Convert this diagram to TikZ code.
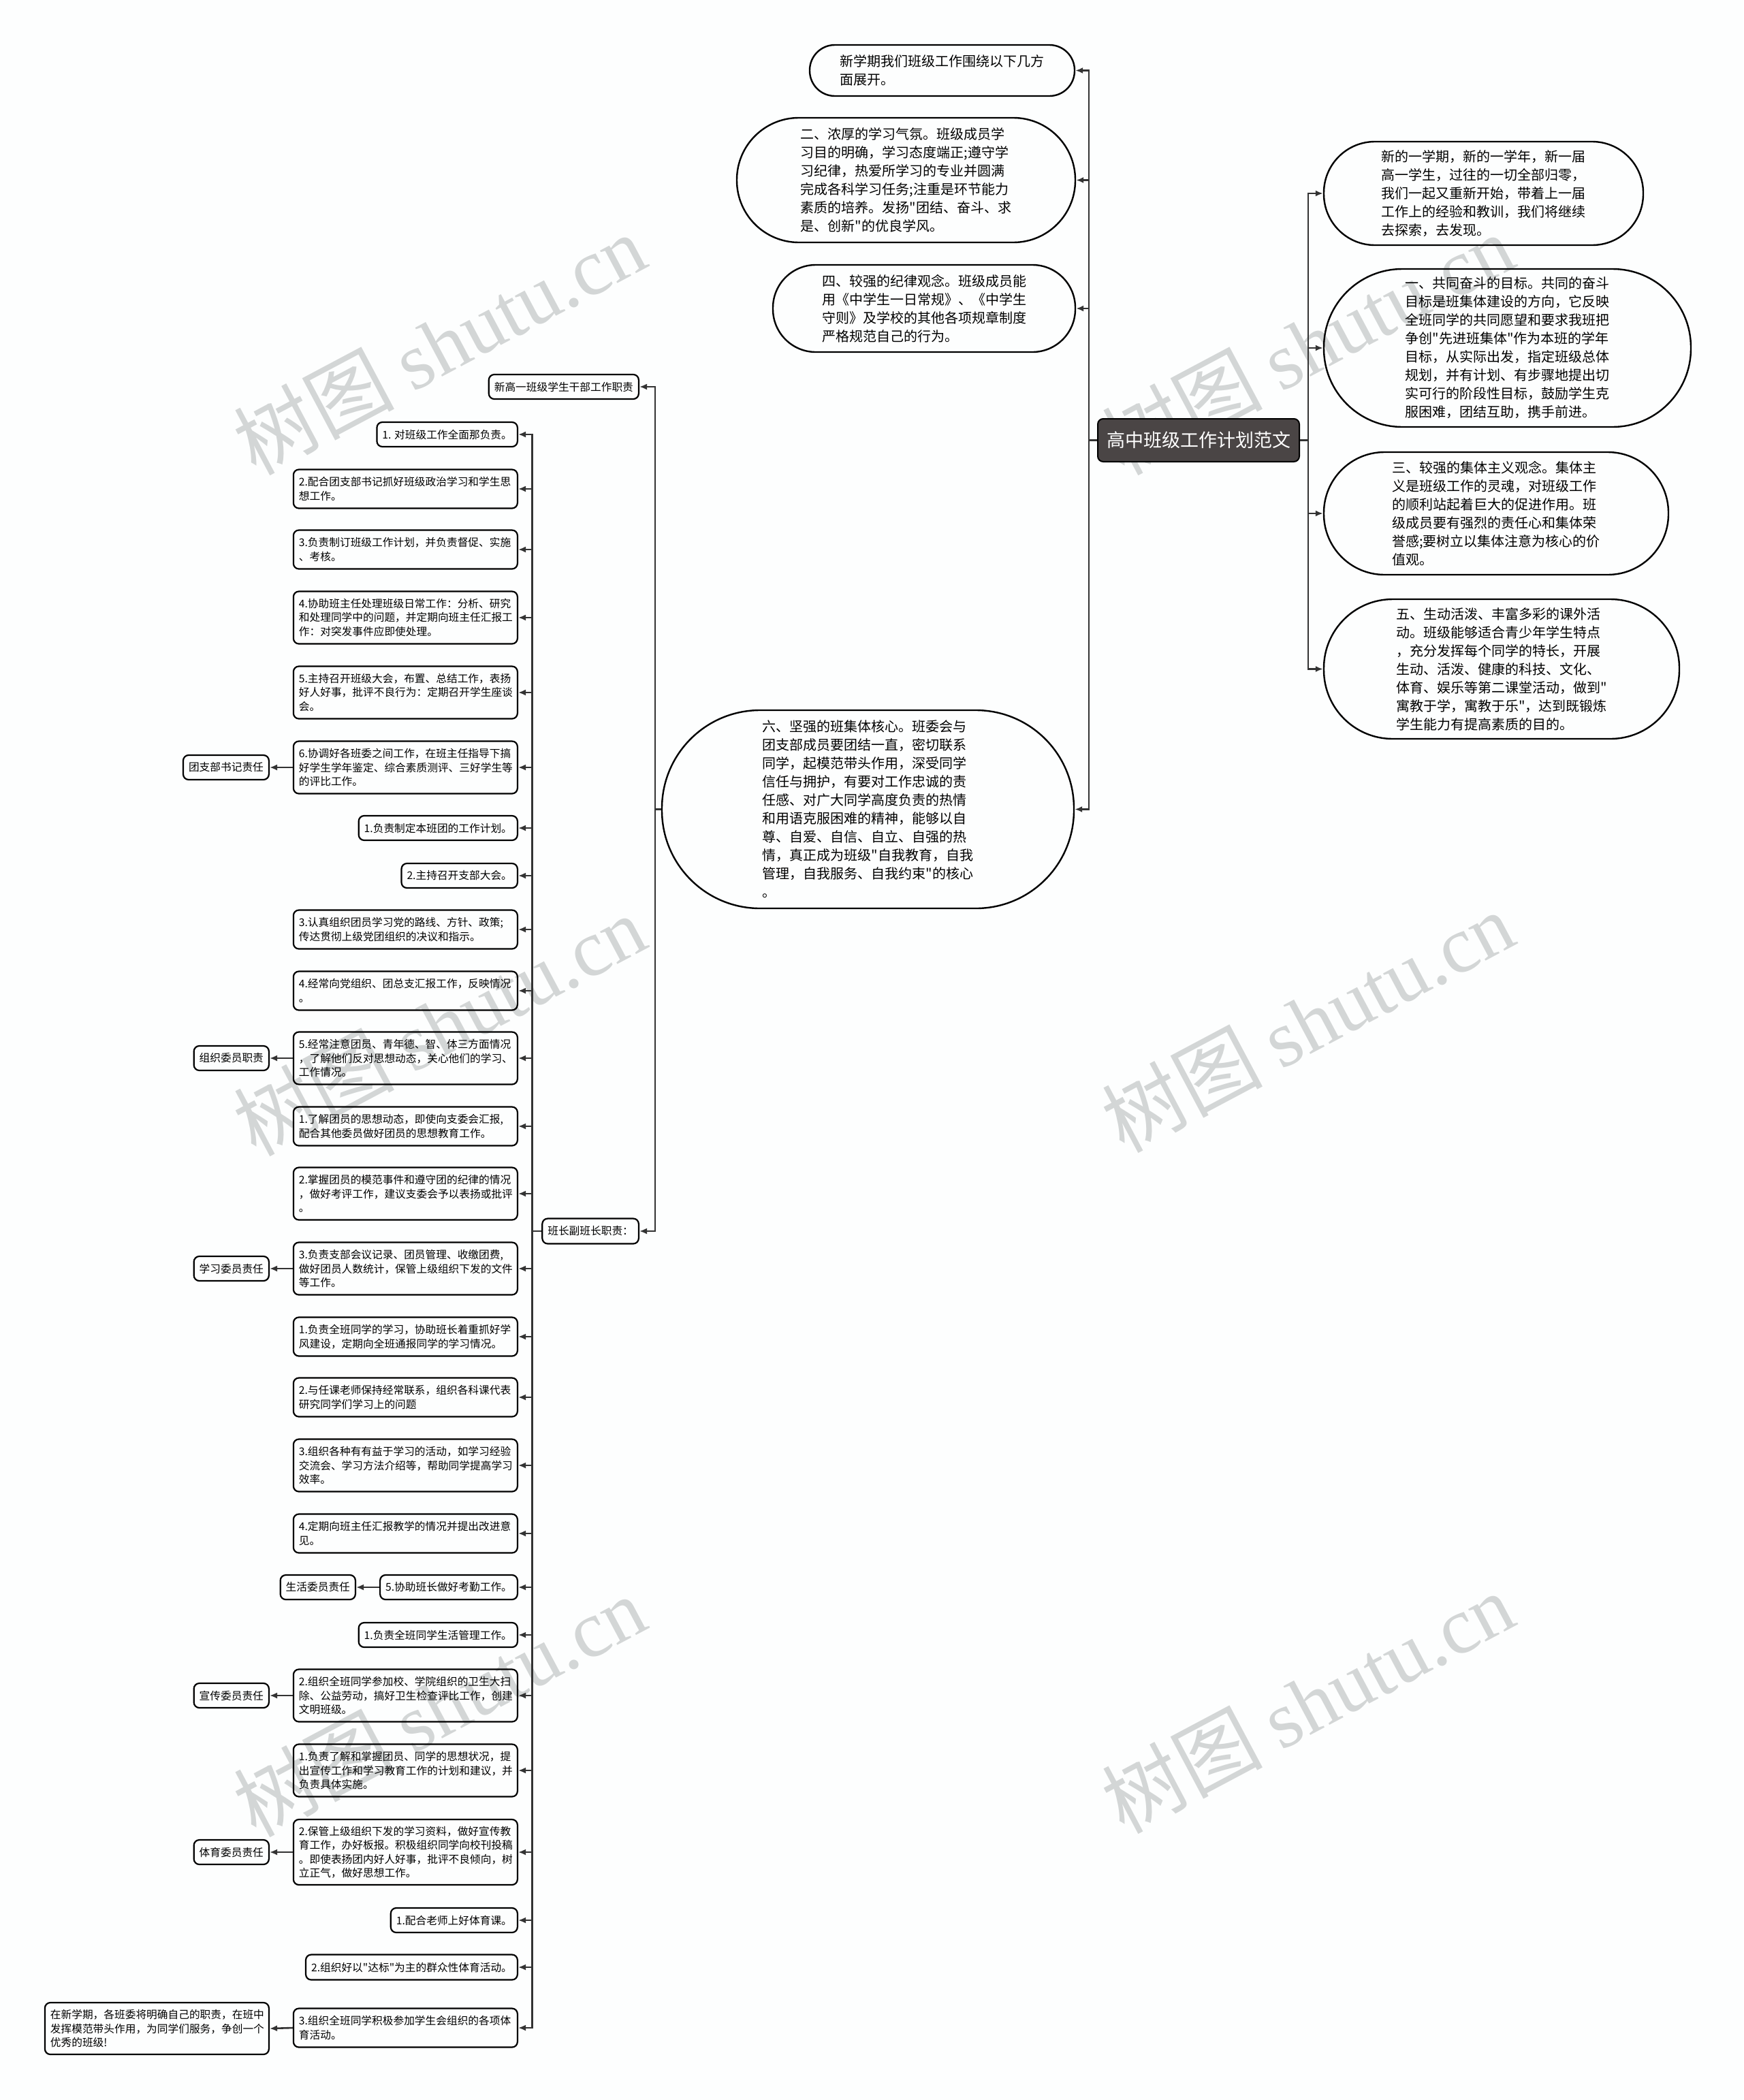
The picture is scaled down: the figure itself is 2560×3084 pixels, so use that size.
\documentclass[tikz,border=0pt]{standalone}
\usepackage{fontspec}
\defaultfontfeatures[\rmfamily]{}
\setmainfont{Noto Sans CJK SC}
\newfontfamily\wmserif{Liberation Serif}
\usetikzlibrary{arrows.meta}
\definecolor{bg}{HTML}{FDFEFE}
\definecolor{ln}{HTML}{333333}
\definecolor{rootfill}{HTML}{4A4545}
\definecolor{wm}{HTML}{D3D6D6}
\begin{document}
\begin{tikzpicture}[x=1pt,y=-1pt,
 conn/.style={draw=ln, line width=2.6pt, -{Latex[length=11pt,width=9pt]}},
 kid/.style={draw=black, line width=2.2pt, rounded corners=8pt, anchor=east,
   font=\fontsize{15.7}{20.5}\selectfont, inner xsep=8pt, inner ysep=4pt, align=left, text=black},
 wide/.style={text width=313pt},
 pill/.style={draw=black, line width=2.4pt, font=\fontsize{20}{27}\selectfont, align=left, inner sep=0pt, text=black},
 wmark/.style={text=wm, rotate=28, font=\fontsize{118}{118}\selectfont, inner sep=0pt},
]
\fill[bg] (0,0) rectangle (2560,3084);
\useasboundingbox (0,0) rectangle (2560,3084);

% watermarks
\node[wmark] (wm1) at (645,505) {树图 {\wmserif shutu.cn}};
\node[wmark] (wm2) at (1920,505) {树图 {\wmserif shutu.cn}};
\node[wmark] (wm3) at (645,1505) {树图 {\wmserif shutu.cn}};
\node[wmark] (wm4) at (1920,1500) {树图 {\wmserif shutu.cn}};
\node[wmark] (wm5) at (645,2505) {树图 {\wmserif shutu.cn}};
\node[wmark] (wm6) at (1920,2500) {树图 {\wmserif shutu.cn}};

% root
\node[draw=black, line width=2pt, fill=rootfill, text=white, rounded corners=8pt,
  minimum width=296pt, minimum height=63pt, inner sep=0pt,
  font=\fontsize{27}{30}\selectfont] (root) at (1760,646.5) {高中班级工作计划范文};

% left-top pills
\node[pill, minimum width=389pt, minimum height=75pt, rounded corners=37pt] (t0) at (1383.5,103.5)
 {新学期我们班级工作围绕以下几方\\面展开。};
\node[pill, minimum width=497pt, minimum height=183pt, rounded corners=91pt] (t1) at (1330.5,264.5)
 {二、浓厚的学习气氛。班级成员学\\习目的明确，学习态度端正;遵守学\\习纪律，热爱所学习的专业并圆满\\完成各科学习任务;注重是环节能力\\素质的培养。发扬"团结、奋斗、求\\是、创新"的优良学风。};
\node[pill, minimum width=444pt, minimum height=128pt, rounded corners=63pt] (t2) at (1357,453)
 {四、较强的纪律观念。班级成员能\\用《中学生一日常规》、《中学生\\守则》及学校的其他各项规章制度\\严格规范自己的行为。};
\node[pill, minimum width=605pt, minimum height=291pt, rounded corners=144pt] (six) at (1274.5,1188.5)
 {六、坚强的班集体核心。班委会与\\团支部成员要团结一直，密切联系\\同学，起模范带头作用，深受同学\\信任与拥护，有要对工作忠诚的责\\任感、对广大同学高度负责的热情\\和用语克服困难的精神，能够以自\\尊、自爱、自信、自立、自强的热\\情，真正成为班级"自我教育，自我\\管理，自我服务、自我约束"的核心\\。};

% right pills
\node[pill, minimum width=469pt, minimum height=152pt, rounded corners=75pt] (r0) at (2178.5,284)
 {新的一学期，新的一学年，新一届\\高一学生，过往的一切全部归零，\\我们一起又重新开始，带着上一届\\工作上的经验和教训，我们将继续\\去探索，去发现。};
\node[pill, minimum width=539pt, minimum height=232pt, rounded corners=115pt] (r1) at (2213.5,511)
 {一、共同奋斗的目标。共同的奋斗\\目标是班集体建设的方向，它反映\\全班同学的共同愿望和要求我班把\\争创"先进班集体"作为本班的学年\\目标，从实际出发，指定班级总体\\规划，并有计划、有步骤地提出切\\实可行的阶段性目标，鼓励学生克\\服困难，团结互助，携手前进。};
\node[pill, minimum width=506pt, minimum height=180pt, rounded corners=89pt] (r2) at (2197,754)
 {三、较强的集体主义观念。集体主\\义是班级工作的灵魂，对班级工作\\的顺利站起着巨大的促进作用。班\\级成员要有强烈的责任心和集体荣\\誉感;要树立以集体注意为核心的价\\值观。};
\node[pill, minimum width=522pt, minimum height=205pt, rounded corners=101pt] (r3) at (2205,982.5)
 {五、生动活泼、丰富多彩的课外活\\动。班级能够适合青少年学生特点\\，充分发挥每个同学的特长，开展\\生动、活泼、健康的科技、文化、\\体育、娱乐等第二课堂活动，做到"\\寓教于学，寓教于乐"，达到既锻炼\\学生能力有提高素质的目的。};

% level under six
\node[kid, minimum width=220pt, minimum height=36pt] (nx) at (939,568) {新高一班级学生干部工作职责};
\node[kid, minimum width=141pt, minimum height=37pt] (bz) at (939,1808) {班长副班长职责：};

% children of bz
\node[kid, minimum width=203pt, minimum height=36pt] (c1) at (761,638) {1. 对班级工作全面那负责。};
\node[kid, wide, minimum height=57pt] (c2) at (761,718) {2.配合团支部书记抓好班级政治学习和学生思\\想工作。};
\node[kid, wide, minimum height=57pt] (c3) at (761,807) {3.负责制订班级工作计划，并负责督促、实施\\、考核。};
\node[kid, wide, minimum height=77pt] (c4) at (761,907) {4.协助班主任处理班级日常工作：分析、研究\\和处理同学中的问题，并定期向班主任汇报工\\作：对突发事件应即使处理。};
\node[kid, wide, minimum height=77pt] (c5) at (761,1017) {5.主持召开班级大会，布置、总结工作，表扬\\好人好事，批评不良行为：定期召开学生座谈\\会。};
\node[kid, wide, minimum height=77pt] (c6) at (761,1127) {6.协调好各班委之间工作，在班主任指导下搞\\好学生学年鉴定、综合素质测评、三好学生等\\的评比工作。};
\node[kid, minimum width=229pt, minimum height=36pt] (c7) at (761,1216) {1.负责制定本班团的工作计划。};
\node[kid, minimum width=169pt, minimum height=36pt] (c8) at (761,1286) {2.主持召开支部大会。};
\node[kid, wide, minimum height=57pt] (c9) at (761,1365) {3.认真组织团员学习党的路线、方针、政策;\\传达贯彻上级党团组织的决议和指示。};
\node[kid, wide, minimum height=57pt] (c10) at (761,1455) {4.经常向党组织、团总支汇报工作，反映情况\\。};
\node[kid, wide, minimum height=77pt] (c11) at (761,1554) {5.经常注意团员、青年德、智、体三方面情况\\，了解他们反对思想动态，关心他们的学习、\\工作情况。};
\node[kid, wide, minimum height=57pt] (c12) at (761,1654) {1.了解团员的思想动态，即使向支委会汇报,\\配合其他委员做好团员的思想教育工作。};
\node[kid, wide, minimum height=77pt] (c13) at (761,1753) {2.掌握团员的模范事件和遵守团的纪律的情况\\，做好考评工作，建议支委会予以表扬或批评\\。};
\node[kid, wide, minimum height=77pt] (c14) at (761,1863) {3.负责支部会议记录、团员管理、收缴团费,\\做好团员人数统计，保管上级组织下发的文件\\等工作。};
\node[kid, wide, minimum height=57pt] (c15) at (761,1963) {1.负责全班同学的学习，协助班长着重抓好学\\风建设，定期向全班通报同学的学习情况。};
\node[kid, wide, minimum height=57pt] (c16) at (761,2052) {2.与任课老师保持经常联系，组织各科课代表\\研究同学们学习上的问题};
\node[kid, wide, minimum height=77pt] (c17) at (761,2152) {3.组织各种有有益于学习的活动，如学习经验\\交流会、学习方法介绍等，帮助同学提高学习\\效率。};
\node[kid, wide, minimum height=57pt] (c18) at (761,2252) {4.定期向班主任汇报教学的情况并提出改进意\\见。};
\node[kid, minimum width=201pt, minimum height=36pt] (c19) at (761,2331) {5.协助班长做好考勤工作。};
\node[kid, minimum width=229pt, minimum height=36pt] (c20) at (761,2401) {1.负责全班同学生活管理工作。};
\node[kid, wide, minimum height=77pt] (c21) at (761,2490) {2.组织全班同学参加校、学院组织的卫生大扫\\除、公益劳动，搞好卫生检查评比工作，创建\\文明班级。};
\node[kid, wide, minimum height=77pt] (c22) at (761,2600) {1.负责了解和掌握团员、同学的思想状况，提\\出宣传工作和学习教育工作的计划和建议，并\\负责具体实施。};
\node[kid, wide, minimum height=96pt] (c23) at (761,2720) {2.保管上级组织下发的学习资料，做好宣传教\\育工作，办好板报。积极组织同学向校刊投稿\\。即使表扬团内好人好事，批评不良倾向，树\\立正气，做好思想工作。};
\node[kid, minimum width=182pt, minimum height=36pt] (c24) at (761,2820) {1.配合老师上好体育课。};
\node[kid, minimum width=308pt, minimum height=37pt] (c25) at (761,2889) {2.组织好以"达标"为主的群众性体育活动。};
\node[kid, wide, minimum height=57pt] (c26) at (761,2978) {3.组织全班同学积极参加学生会组织的各项体\\育活动。};

% grandchildren
\node[kid, minimum width=125pt, minimum height=36pt] (g1) at (396,1127) {团支部书记责任};
\node[kid, minimum width=109pt, minimum height=36pt] (g2) at (396,1554) {组织委员职责};
\node[kid, minimum width=109pt, minimum height=36pt] (g3) at (396,1863) {学习委员责任};
\node[kid, minimum width=108pt, minimum height=36pt] (g4) at (523,2331) {生活委员责任};
\node[kid, minimum width=109pt, minimum height=36pt] (g5) at (396,2490) {宣传委员责任};
\node[kid, minimum width=109pt, minimum height=36pt] (g6) at (396,2720) {体育委员责任};
\node[kid, text width=313pt, minimum height=76pt] (g7) at (396,2979) {在新学期，各班委将明确自己的职责，在班中\\发挥模范带头作用，为同学们服务，争创一个\\优秀的班级!};

% connectors from root
\foreach \n in {t0,t1,t2,six} \draw[conn] (root.west) -- ++(-12,0) |- (\n.east);
\foreach \n in {r0,r1,r2,r3} \draw[conn] (root.east) -- ++(12,0) |- (\n.west);
% from six
\foreach \n in {nx,bz} \draw[conn] (six.west) -- ++(-9,0) |- (\n.east);
% from bz
\foreach \n in {c1,c2,c3,c4,c5,c6,c7,c8,c9,c10,c11,c12,c13,c14,c15,c16,c17,c18,c19,c20,c21,c22,c23,c24,c25,c26}
  \draw[conn] (bz.west) -- ++(-14,0) |- (\n.east);
% grandchildren
\draw[conn] (c6.west) -- (g1.east);
\draw[conn] (c11.west) -- (g2.east);
\draw[conn] (c14.west) -- (g3.east);
\draw[conn] (c19.west) -- (g4.east);
\draw[conn] (c21.west) -- (g5.east);
\draw[conn] (c23.west) -- (g6.east);
\draw[conn] (c26.west) -- (g7.east);
\end{tikzpicture}
\end{document}
